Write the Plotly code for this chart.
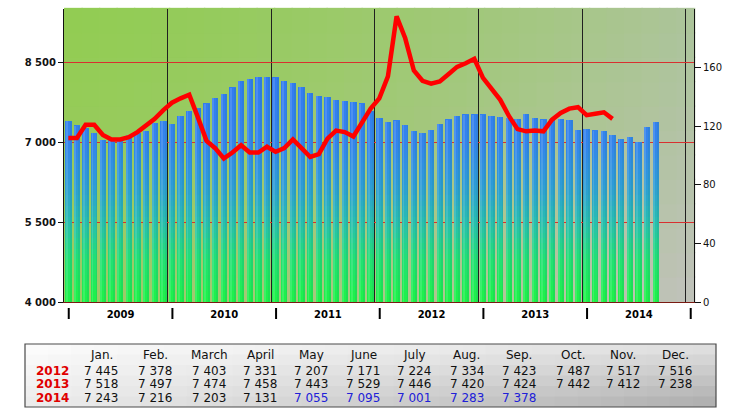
import plotly.graph_objects as go

years = ["2009", "2010", "2011", "2012", "2013", "2014"]
months = ["Jan.", "Feb.", "March", "April", "May", "June",
          "July", "Aug.", "Sep.", "Oct.", "Nov.", "Dec."]

# bars, left axis (monthly)
bars_2009 = [7390, 7310, 7275, 7170, 7050, 7045, 7055, 7130, 7180, 7205, 7360, 7390]
bars_2010 = [7350, 7490, 7590, 7650, 7725, 7825, 7900, 8025, 8150, 8195, 8225, 8230]
bars_2011 = [8210, 8140, 8110, 8040, 7930, 7860, 7840, 7790, 7780, 7760, 7725, 7590]
bars_2012 = [7445, 7378, 7403, 7331, 7207, 7171, 7224, 7334, 7423, 7487, 7517, 7516]
bars_2013 = [7518, 7497, 7474, 7458, 7443, 7529, 7446, 7420, 7424, 7442, 7412, 7238]
bars_2014 = [7243, 7216, 7203, 7131, 7055, 7095, 7001, 7283, 7378]

# red line, right axis (monthly)
line_2009 = [112, 112, 121, 121, 114, 111, 111, 112.5, 116, 120.5, 125, 131]
line_2010 = [136, 139, 141.5, 126, 110, 105, 98, 102, 107, 102, 102, 106]
line_2011 = [102.5, 105, 111, 105, 99, 101, 111.5, 117, 116, 113, 123, 132]
line_2012 = [139, 154, 195, 180, 158, 151, 149, 150.5, 155.5, 160.5, 163, 166]
line_2013 = [153, 146, 138, 127, 118, 116.5, 117, 116.5, 124.5, 129, 132, 133]
line_2014 = [127.5, 128.5, 129.5, 125]

table_years = ["2012", "2013", "2014"]
table_rows = [bars_2012, bars_2013, bars_2014]
provisional_from = 4   # 2014 values from May on are shown in blue

left_ticks = [4000, 5500, 7000, 8500]
right_ticks = [0, 40, 80, 120, 160]

bar_values = bars_2009 + bars_2010 + bars_2011 + bars_2012 + bars_2013 + bars_2014
line_values = line_2009 + line_2010 + line_2011 + line_2012 + line_2013 + line_2014
bar_x = list(range(len(bar_values)))
line_x = list(range(len(line_values)))


def fmt(v):
    return f"{v:,}".replace(",", " ")


def mix(c1, c2, t):
    return tuple(round(a + (b - a) * t) for a, b in zip(c1, c2))


def rgb(c):
    return "rgb(%d,%d,%d)" % c


fig = go.Figure()

# bars: stacked colour bands to fake the green -> blue gradient
stops = [(4000, (30, 242, 70)), (4800, (34, 225, 115)), (5500, (40, 190, 175)),
         (6200, (46, 155, 215)), (7000, (52, 132, 236)), (8500, (50, 120, 242))]


def band_color(v):
    for (v0, c0), (v1, c1) in zip(stops, stops[1:]):
        if v <= v1:
            return mix(c0, c1, (v - v0) / (v1 - v0))
    return stops[-1][1]


step = 100
lo = 4000
while lo < max(bar_values):
    hi = lo + step
    heights = [max(0, min(v, hi) - lo) for v in bar_values]
    fig.add_trace(go.Bar(
        x=bar_x, y=heights, base=[lo] * len(bar_values),
        width=0.74, marker=dict(color=rgb(band_color(lo + step / 2)), line_width=0),
        showlegend=False, hoverinfo="skip"))
    lo = hi

# light left edge / darker right edge on each bar (fake horizontal shading)
fig.add_trace(go.Bar(
    x=[x - 0.2 for x in bar_x], y=[v - 4000 for v in bar_values], base=4000,
    width=0.22, marker=dict(color="rgba(255,255,255,0.13)", line_width=0),
    showlegend=False, hoverinfo="skip"))
fig.add_trace(go.Bar(
    x=[x + 0.26 for x in bar_x], y=[v - 4000 for v in bar_values], base=4000,
    width=0.22, marker=dict(color="rgba(20,120,110,0.12)", line_width=0),
    showlegend=False, hoverinfo="skip"))

fig.add_trace(go.Scatter(
    x=line_x, y=line_values, yaxis="y2", mode="lines",
    line=dict(color="#ff0000", width=4.5), showlegend=False))

# plot background gradient (green top-left -> grey bottom-right)
tl, tr, bl, br = (146, 204, 82), (172, 196, 154), (158, 202, 104), (194, 194, 190)
nx, ny = 36, 12
shapes = []
for i in range(nx):
    u = (i + 0.5) / nx
    tu = u ** 1.4
    for j in range(ny):
        v = (j + 0.5) / ny
        top = mix(tl, tr, tu)
        bot = mix(bl, br, tu)
        c = mix(bot, top, v ** 0.8)
        shapes.append(dict(type="rect", xref="paper", yref="paper",
                           x0=i / nx, x1=(i + 1) / nx + 0.002, y0=j / ny, y1=(j + 1) / ny + 0.004,
                           fillcolor=rgb(c), line_width=0, layer="below"))

# table box below the chart (pixel -> paper helpers)
L, R, T, B = 64, 694, 9, 302


def px(p):
    return (p - L) / (R - L)


def py(p):
    return (B - p) / (B - T)


bx0, bx1, by0, by1 = 25, 716, 344, 407
tnx, tny = 30, 6
for i in range(tnx):
    u = (i + 0.5) / tnx
    for j in range(tny):
        v = (j + 0.5) / tny
        top = mix((252, 252, 252), (226, 226, 226), u)
        bot = mix((236, 236, 236), (172, 172, 172), u)
        c = mix(top, bot, v)
        xa = bx0 + (bx1 - bx0) * i / tnx
        xb = bx0 + (bx1 - bx0) * (i + 1) / tnx + 0.6
        ya = by0 + (by1 - by0) * j / tny
        yb = by0 + (by1 - by0) * (j + 1) / tny + 0.6
        shapes.append(dict(type="rect", xref="paper", yref="paper",
                           x0=px(xa), x1=px(min(xb, bx1)), y0=py(ya), y1=py(min(yb, by1)),
                           fillcolor=rgb(c), line_width=0, layer="above"))
shapes.append(dict(type="rect", xref="paper", yref="paper",
                   x0=px(bx0), x1=px(bx1), y0=py(by0), y1=py(by1),
                   line=dict(color="#4a4a4a", width=1.2), fillcolor="rgba(0,0,0,0)", layer="above"))

# x axis: "|" marks just right of the year boundaries, bold year in the middle
boundaries = [-0.5 + 12 * k for k in range(len(years) + 1)]
centers = [5.5 + 12 * k for k in range(len(years))]
shift = 0.55
for b in boundaries:
    shapes.append(dict(type="line", xref="x", yref="paper",
                       x0=b + shift, x1=b + shift, y0=py(308), y1=py(319),
                       line=dict(color="#000000", width=2), layer="above"))

col_x = [101, 155, 209, 260, 311, 363, 414, 467, 519, 573, 623, 675]
row_y = [371, 384, 398]
cell_font = dict(family="DejaVu Sans", size=12, color="#111111")
annotations = []
for m, cx in zip(months, col_x):
    annotations.append(dict(text=m, x=px(cx), y=py(355), xref="paper", yref="paper",
                            showarrow=False, xanchor="center", yanchor="middle", font=cell_font))
for r, (yr, vals) in enumerate(zip(table_years, table_rows)):
    annotations.append(dict(text="<b>%s</b>" % yr, x=px(52), y=py(row_y[r]), xref="paper", yref="paper",
                            showarrow=False, xanchor="center", yanchor="middle",
                            font=dict(family="DejaVu Sans", size=12, color="#e00000")))
    for k, v in enumerate(vals):
        blue = yr == "2014" and k >= provisional_from
        annotations.append(dict(text=fmt(v), x=px(col_x[k]), y=py(row_y[r]), xref="paper", yref="paper",
                                showarrow=False, xanchor="center", yanchor="middle",
                                font=dict(family="DejaVu Sans", size=12,
                                          color="#2020d8" if blue else "#111111")))

fig.update_layout(
    width=736, height=412,
    margin=dict(l=L, r=736 - R, t=T, b=412 - B),
    paper_bgcolor="white", plot_bgcolor="#b0c4a0",
    barmode="overlay", bargap=0,
    showlegend=False,
    shapes=shapes, annotations=annotations,
    xaxis=dict(range=[-0.5, 72.43], showgrid=False, zeroline=False,
               showline=True, linecolor="#7a1a12", linewidth=1,
               tickmode="array",
               tickvals=[c + shift for c in centers], ticktext=years,
               ticks="", ticklabelstandoff=3,
               tickfont=dict(family="DejaVu Sans", size=10, color="#000000", weight="bold"),
               minor=dict(tickmode="array", tickvals=boundaries, showgrid=True,
                          gridcolor="#202020", gridwidth=1, ticks="", ticklen=0)),
    yaxis=dict(range=[4000, 9500], tickmode="array", tickvals=left_ticks,
               ticktext=[fmt(t) for t in left_ticks],
               showgrid=True, gridcolor="#d83030", gridwidth=1, zeroline=False,
               showline=True, linecolor="#111111", linewidth=1,
               ticks="outside", ticklen=5, tickcolor="#111111",
               tickfont=dict(family="DejaVu Sans", size=10, color="#111111", weight="bold")),
    yaxis2=dict(range=[0, 200], overlaying="y", side="right", tickmode="array",
                tickvals=right_ticks, showgrid=False, zeroline=False,
                showline=True, linecolor="#111111", linewidth=1,
                ticks="outside", ticklen=6, tickcolor="#111111",
                tickfont=dict(family="DejaVu Sans", size=10, color="#111111")),
)

fig.write_html("out.html", config={"displayModeBar": False},
               post_script="document.body.style.margin='0px';")
